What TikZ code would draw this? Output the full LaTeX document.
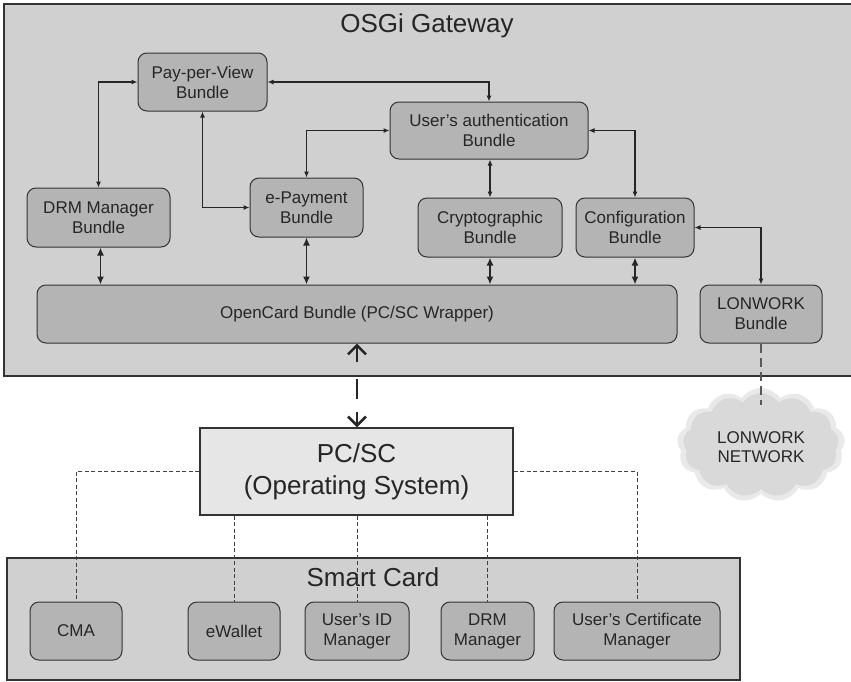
\documentclass[tikz,border=0pt]{standalone}
\usepackage{fontspec}
\setmainfont{Liberation Sans}
\usetikzlibrary{arrows.meta,shapes.symbols,calc}

\definecolor{panelgray}{HTML}{D0D0D0}
\definecolor{bundlegray}{HTML}{B4B4B4}
\definecolor{osgray}{HTML}{E6E6E6}
\definecolor{edgedark}{HTML}{333333}
\definecolor{cloudgray}{HTML}{D9D9D9}
\definecolor{cloudhaze}{HTML}{E9E9E9}

\tikzset{
  panel/.style={draw=edgedark, fill=panelgray, line width=1.2pt},
  paneltitle/.style={font=\fontsize{26}{30}\selectfont, anchor=base, text=black!85},
  bundle/.style={draw=edgedark, fill=bundlegray, rounded corners=9pt, line width=1pt,
    align=center, inner sep=0pt, font=\fontsize{17}{20}\selectfont, text=black!85},
  osbox/.style={draw=edgedark, fill=osgray, line width=1.2pt, align=center, inner sep=0pt,
    font=\fontsize{26}{32}\selectfont, text=black!85},
  biarrow/.style={draw=black!85, line width=1.1pt,
    {Latex[length=6pt,width=5pt]}-{Latex[length=6pt,width=5pt]}},
  busarrow/.style={draw=black!85, line width=1.8pt,
    {Latex[length=8pt,width=7pt]}-{Latex[length=8pt,width=7pt]}},
  wrapperlink/.style={draw=black!85, line width=2.8pt,
    dash pattern=on 15pt off 17pt on 20pt off 13pt on 30pt,
    {Straight Barb[length=9pt,width=18pt,line width=2.6pt]}-{Straight Barb[length=9pt,width=18pt,line width=2.6pt]}},
  cardlink/.style={draw=black!75, line width=0.9pt, dash pattern=on 4pt off 2.5pt},
  netlink/.style={draw=black!65, line width=1.8pt, dash pattern=on 9pt off 5pt},
  netcloud/.style={cloud, cloud puffs=13, cloud puff arc=110, aspect=1.5, inner sep=0pt},
}

\begin{document}
\begin{tikzpicture}[x=1pt, y=-1pt]
\useasboundingbox (0,0) rectangle (851,681);

% ---- OSGi gateway panel ----
\draw[panel] (4,4) rectangle (853,376);
\node[paneltitle] (gwtitle) at (427,32) {OSGi Gateway};

\node[bundle, minimum width=129pt, minimum height=58pt] (ppv)    at (202.5,82)   {Pay-per-View\\Bundle};
\node[bundle, minimum width=198pt, minimum height=57pt] (auth)   at (489,130.5)  {User’s authentication\\Bundle};
\node[bundle, minimum width=143pt, minimum height=59pt] (drm)    at (98.5,217.5) {DRM Manager\\Bundle};
\node[bundle, minimum width=113pt, minimum height=59pt] (epay)   at (306.5,207.5){e-Payment\\Bundle};
\node[bundle, minimum width=144pt, minimum height=59pt] (crypto) at (490,227.5)  {Cryptographic\\Bundle};
\node[bundle, minimum width=118pt, minimum height=59pt] (config) at (635,227.5)  {Configuration\\Bundle};
\node[bundle, minimum width=640pt, minimum height=58pt] (ocf)    at (357,314)    {OpenCard Bundle (PC/SC Wrapper)};
\node[bundle, minimum width=122pt, minimum height=58pt] (lon)    at (761,314)    {LONWORK\\Bundle};

% bundle-to-bundle links
\draw[biarrow] (drm.north) |- (ppv.west);
\draw[biarrow] (ppv.south) |- (epay.west);
\draw[biarrow] (ppv.east) -| (auth.north);
\draw[biarrow] (epay.north) |- (auth.west);
\draw[biarrow] (crypto.north |- auth.south) -- (crypto.north);
\draw[biarrow] (auth.east) -| (config.north);
\draw[biarrow] (config.east) -| (lon.north);

% links down to the OpenCard bundle
\draw[busarrow] ([xshift=2pt]drm.south) -- ([xshift=2pt]drm.south |- ocf.north);
\draw[busarrow] (epay.south) -- (epay.south |- ocf.north);
\draw[busarrow] (crypto.south) -- (crypto.south |- ocf.north);
\draw[busarrow] (config.south) -- (config.south |- ocf.north);

% ---- LONWORK network cloud (soft outer haze, then body) ----
\node[netcloud, fill=cloudhaze, minimum width=168pt, minimum height=114pt] (nethaze) at (761,445) {};
\node[netcloud, fill=cloudgray, minimum width=156pt, minimum height=104pt] (net) at (761,445) {};
\node[align=center, font=\fontsize{17}{19}\selectfont, text=black!85] (nettext) at (761,447) {LONWORK\\NETWORK};
\coordinate (netin) at (761,405);
\draw[netlink] (lon.south) -- (netin);

% ---- PC/SC layer ----
\node[osbox, minimum width=313pt, minimum height=87pt] (pcsc) at (356.5,471.5) {PC/SC\\(Operating System)};
\draw[wrapperlink] (ocf.south) -- (ocf.south |- pcsc.north);

% ---- Smart card panel ----
\draw[panel] (7,558) rectangle (740,680);
\node[paneltitle] (sctitle) at (373,586) {Smart Card};

\node[bundle, minimum width=92pt,  minimum height=58pt] (cma)  at (76,631)    {CMA};
\node[bundle, minimum width=92pt,  minimum height=58pt] (ewal) at (234,631)   {eWallet};
\node[bundle, minimum width=104pt, minimum height=58pt] (uid)  at (357,631)   {User’s ID\\Manager};
\node[bundle, minimum width=93pt,  minimum height=58pt] (drmm) at (487.5,631) {DRM\\Manager};
\node[bundle, minimum width=166pt, minimum height=58pt] (cert) at (637,631)   {User’s Certificate\\Manager};

\draw[cardlink] (pcsc.west) -| (cma.north);
\draw[cardlink] (ewal.north |- pcsc.south) -- (ewal.north);
\draw[cardlink] (uid.north |- pcsc.south) -- (uid.north);
\draw[cardlink] (drmm.north |- pcsc.south) -- (drmm.north);
\draw[cardlink] (pcsc.east) -| (cert.north);
\end{tikzpicture}
\end{document}
